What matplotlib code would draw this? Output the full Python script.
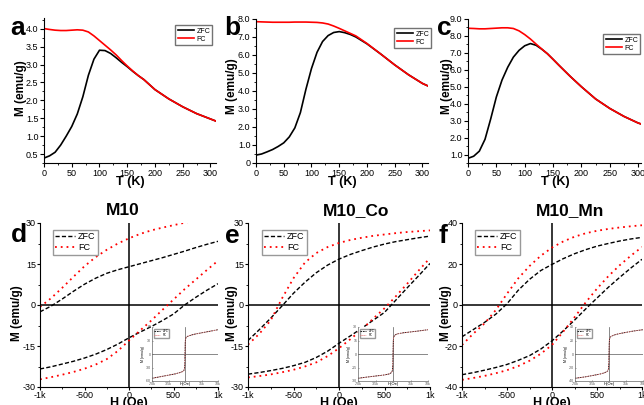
import matplotlib
matplotlib.use('Agg')
import matplotlib.pyplot as plt
from matplotlib.transforms import Affine2D
from matplotlib.ticker import AutoMinorLocator

plt.rcParams['font.family'] = ['Liberation Sans', 'DejaVu Sans']

# ---- M-T data (panels a-c) ----
T = [2, 10, 20, 30, 40, 50, 60, 70, 80, 90, 100, 110, 120, 130, 140, 150,
     160, 170, 180, 200, 225, 250, 275, 300, 310]
a_zfc = [0.40, 0.45, 0.55, 0.75, 1.00, 1.27, 1.62, 2.10, 2.70, 3.15, 3.40, 3.39, 3.31, 3.19, 3.06,
         2.94, 2.81, 2.69, 2.58, 2.30, 2.04, 1.82, 1.63, 1.48, 1.42]
a_fc = [4.00, 3.98, 3.96, 3.95, 3.95, 3.96, 3.97, 3.96, 3.91, 3.80, 3.67, 3.54, 3.41, 3.27, 3.11,
        2.96, 2.82, 2.69, 2.58, 2.30, 2.04, 1.82, 1.63, 1.48, 1.42]
b_zfc = [0.45, 0.50, 0.62, 0.75, 0.92, 1.12, 1.45, 1.95, 2.80, 4.10, 5.25, 6.15, 6.75, 7.08, 7.25,
         7.30, 7.24, 7.14, 7.00, 6.62, 6.05, 5.45, 4.90, 4.42, 4.28]
b_fc = [7.85, 7.84, 7.83, 7.82, 7.82, 7.82, 7.82, 7.83, 7.83, 7.83, 7.82, 7.81, 7.78, 7.72, 7.61,
        7.48, 7.34, 7.20, 7.06, 6.64, 6.05, 5.45, 4.90, 4.42, 4.28]
c_zfc = [0.80, 0.90, 1.20, 1.90, 3.10, 4.40, 5.40, 6.15, 6.75, 7.15, 7.42, 7.55, 7.45, 7.22, 6.95,
         6.62, 6.28, 5.95, 5.62, 5.00, 4.28, 3.72, 3.25, 2.86, 2.75]
c_fc = [8.45, 8.44, 8.42, 8.42, 8.44, 8.46, 8.48, 8.48, 8.44, 8.30, 8.08, 7.82, 7.52, 7.23, 6.95,
        6.62, 6.28, 5.95, 5.62, 5.00, 4.28, 3.72, 3.25, 2.86, 2.75]

# ---- M-H loops (panels d-f), upper = field decreasing, lower = increasing ----
H = [-1000, -875, -750, -625, -500, -375, -250, -125, 0, 125, 250, 375, 500, 625, 750, 875, 1000]
d_zfc_up = [-2.5, -0.4, 2.2, 5.0, 7.6, 9.8, 11.6, 12.9, 14.0, 15.1, 16.2, 17.3, 18.5, 19.7, 21.0, 22.2, 23.3]
d_zfc_lo = [-23.4, -22.6, -21.6, -20.6, -19.4, -18.0, -16.3, -14.3, -12.0, -9.9, -7.9, -5.7, -3.3, 0.0, 2.8, 5.4, 7.8]
d_fc_up = [-0.7, 2.5, 6.3, 10.3, 14.2, 17.5, 20.2, 22.5, 24.4, 26.0, 27.3, 28.3, 29.2, 30.1, 30.9, 31.6, 32.3]
d_fc_lo = [-27.2, -26.4, -25.5, -24.5, -23.3, -21.8, -19.8, -16.8, -13.0, -9.3, -5.7, -1.8, 2.0, 5.8, 9.3, 12.8, 16.2]

e_zfc_up = [-13.0, -9.0, -4.8, -0.3, 4.3, 8.3, 11.8, 14.6, 16.8, 18.5, 19.9, 21.2, 22.3, 23.2, 23.9, 24.6, 25.2]
e_zfc_lo = [-25.3, -24.7, -24.0, -23.2, -22.2, -21.0, -19.2, -16.9, -14.0, -11.3, -8.5, -5.6, -2.7, 1.8, 6.3, 10.7, 15.2]
e_fc_up = [-14.5, -10.5, -5.6, 2.5, 9.8, 15.5, 19.0, 21.2, 22.7, 23.8, 24.6, 25.3, 25.8, 26.3, 26.7, 27.0, 27.3]
e_fc_lo = [-26.5, -26.0, -25.4, -24.6, -23.7, -22.5, -21.0, -18.7, -15.8, -12.5, -9.0, -5.0, -1.2, 3.2, 7.8, 12.6, 17.2]

f_zfc_up = [-15.5, -12.0, -8.5, -4.5, 0.6, 7.2, 12.5, 16.8, 19.8, 22.6, 25.0, 27.0, 28.7, 30.0, 31.2, 32.2, 33.0]
f_zfc_lo = [-34.0, -33.0, -31.8, -30.5, -29.0, -27.0, -24.7, -21.5, -17.5, -12.6, -7.4, -1.9, 3.4, 8.6, 13.4, 18.0, 22.3]
f_fc_up = [-19.5, -14.0, -9.0, -2.5, 5.5, 13.0, 19.0, 24.0, 28.0, 31.0, 33.3, 35.0, 36.2, 37.1, 37.8, 38.4, 38.9]
f_fc_lo = [-36.5, -35.6, -34.6, -33.3, -31.8, -29.8, -27.2, -23.8, -19.5, -13.0, -6.0, 1.3, 8.0, 14.0, 19.3, 24.0, 28.3]

# ---- full-field loops for insets ----
H_big = [-70000, -50000, -35000, -20000, -10000, -5000, -2500, -1000, -500, 0,
         500, 1000, 2500, 5000, 10000, 20000, 35000, 50000, 70000]
d_big = [-54, -50, -47, -44, -41, -39, -37, -33, -25, 0, 25, 33, 37, 39, 41, 44, 47, 50, 54]
e_big = [-27, -25.5, -24.5, -23.5, -22.5, -21.5, -20, -18, -13, 0, 13, 18, 20, 21.5, 22.5, 23.5, 24.5, 25.5, 27]
f_big = [-36, -34, -32, -30, -28, -26.5, -25, -22, -16, 0, 16, 22, 25, 26.5, 28, 30, 32, 34, 36]
d_big_lim, e_big_lim, f_big_lim = 60, 30, 40

W, HH = 644, 405
fig = plt.figure(figsize=(W / 100, HH / 100), dpi=100)
# pixel coords, origin top-left
pix = Affine2D().scale(1 / W, -1 / HH).translate(0, 1) + fig.transFigure


def box(l, t, r, b):
    return fig.add_axes([l / W, 1 - b / HH, (r - l) / W, (b - t) / HH])


def fmt1(v, pos):
    return '0' if v == 0 else '%.1f' % v


def mt_panel(pos, zfc, fc, ylim, yticks, xmax, letter, letter_xy, leg_xy, ylab_xy, xlab_xy):
    ax = box(*pos)
    ax.plot(T, zfc, color='black', lw=1.2, label='ZFC')
    ax.plot(T, fc, color='red', lw=1.2, label='FC')
    ax.set_xlim(0, xmax)
    ax.set_ylim(*ylim)
    ax.set_xticks([0, 50, 100, 150, 200, 250, 300])
    ax.set_yticks(yticks)
    ax.yaxis.set_major_formatter(fmt1)
    ax.xaxis.set_minor_locator(AutoMinorLocator(2))
    ax.yaxis.set_minor_locator(AutoMinorLocator(2))
    for s in ['top', 'right']:
        ax.spines[s].set_visible(False)
    ax.tick_params(direction='out', length=3, width=0.8, labelsize=6.5, pad=1)
    ax.tick_params(which='minor', direction='out', length=1.5, width=0.6)
    ax.set_xlabel('T (K)', fontsize=9, fontweight='bold')
    ax.set_ylabel('M (emu/g)', fontsize=8.5, fontweight='bold')
    ax.xaxis.set_label_coords(*xlab_xy, transform=pix)
    ax.yaxis.set_label_coords(*ylab_xy, transform=pix)
    fig.text(letter_xy[0], letter_xy[1], letter, transform=pix, fontsize=19,
             fontweight='bold', ha='center', va='baseline')
    ax.legend(loc='upper left', bbox_to_anchor=leg_xy, bbox_transform=pix,
              fontsize=5, handlelength=2.4, handletextpad=0.3, borderpad=0.3,
              labelspacing=0.15, fancybox=False, edgecolor='0.45', framealpha=1)
    return ax


def mh_panel(pos, zu, zl, fu, fl, ymax, letter, letter_xy, title, title_xy,
             leg_xy, ylab_xy, xlab_xy, inset_pos, big, big_lim):
    ax = box(*pos)
    ax.axhline(0, color='black', lw=1.1, zorder=1)
    ax.axvline(0, color='black', lw=1.1, zorder=1)
    ax.plot(H, zu, color='black', lw=1.0, ls=(0, (3, 1.6)), label='ZFC')
    ax.plot(H, zl, color='black', lw=1.0, ls=(0, (3, 1.6)))
    ax.plot(H, fu, color='red', lw=1.3, ls=(0, (1, 2.2)), label='FC')
    ax.plot(H, fl, color='red', lw=1.3, ls=(0, (1, 2.2)))
    ax.set_xlim(-1000, 1000)
    ax.set_ylim(-ymax, ymax)
    ax.set_xticks([-1000, -500, 0, 500, 1000])
    ax.set_xticklabels(['-1k', '-500', '0', '500', '1k'])
    yt = [-ymax, -ymax // 2, 0, ymax // 2, ymax]
    ax.set_yticks(yt)
    ax.set_yticklabels(['%d' % v for v in yt])
    ax.xaxis.set_minor_locator(AutoMinorLocator(2))
    ax.yaxis.set_minor_locator(AutoMinorLocator(2))
    for s in ['top', 'right']:
        ax.spines[s].set_visible(False)
    ax.tick_params(direction='out', length=2.5, width=0.8, labelsize=6.5, pad=0.5)
    ax.tick_params(which='minor', direction='out', length=1.5, width=0.6)
    ax.set_xlabel('H (Oe)', fontsize=9, fontweight='bold')
    ax.set_ylabel('M (emu/g)', fontsize=8.5, fontweight='bold')
    ax.xaxis.set_label_coords(*xlab_xy, transform=pix)
    ax.yaxis.set_label_coords(*ylab_xy, transform=pix)
    fig.text(letter_xy[0], letter_xy[1], letter, transform=pix, fontsize=19,
             fontweight='bold', ha='center', va='baseline')
    fig.text(title_xy[0], title_xy[1], title, transform=pix, fontsize=12.5,
             fontweight='bold', ha='center', va='baseline')
    ax.legend(loc='upper left', bbox_to_anchor=leg_xy, bbox_transform=pix,
              fontsize=6.5, handlelength=2.2, handletextpad=0.3, borderpad=0.3,
              labelspacing=0.2, fancybox=False, edgecolor='0.6', framealpha=1)

    # inset: full-field loop
    ins = box(*inset_pos)
    ins.axhline(0, color='0.35', lw=0.5)
    ins.axvline(0, color='0.35', lw=0.5)
    ins.plot(H_big, big, color='black', lw=0.6, ls=(0, (2, 1)), label='ZFC')
    ins.plot(H_big, big, color='#e07070', lw=0.7, ls=(0, (1, 1)), label='FC')
    ins.set_xlim(-70000, 70000)
    ins.set_ylim(-big_lim, big_lim)
    ins.set_xticks([-70000, -35000, 0, 35000, 70000])
    ins.set_xticklabels(['-70k', '-35k', '', '35k', '70k'])
    ins.set_yticks([-big_lim, -big_lim // 2, 0, big_lim // 2, big_lim])
    ins.yaxis.set_major_formatter(lambda v, p: '%d' % v)
    for s in ['top', 'right']:
        ins.spines[s].set_visible(False)
    for s in ['left', 'bottom']:
        ins.spines[s].set_linewidth(0.5)
        ins.spines[s].set_color('0.4')
    ins.tick_params(direction='in', length=1, width=0.4, labelsize=2.5, pad=0.5, colors='0.3')
    ins.set_xlabel('H(Oe)', fontsize=3, labelpad=0)
    ins.set_ylabel('M (emu/g)', fontsize=2.5, labelpad=0.5)
    ins.xaxis.set_label_coords(0.5, -0.02)
    ins.legend(loc='upper left', fontsize=2.2, handlelength=2, borderpad=0.2,
               labelspacing=0.1, fancybox=False, edgecolor='0.6', framealpha=1)
    return ax


mt_panel((44, 18, 216, 163), a_zfc, a_fc, (0.25, 4.3), [0.5, 1.0, 1.5, 2.0, 2.5, 3.0, 3.5, 4.0],
         310, 'a', (18, 35), (172, 22), (27, 88), (130, 176))
mt_panel((256, 19, 428, 163), b_zfc, b_fc, (0, 8.0), [0, 1, 2, 3, 4, 5, 6, 7, 8],
         310, 'b', (232, 35), (391, 25), (238, 86), (342, 176))
mt_panel((468, 19, 641, 163), c_zfc, c_fc, (0.5, 9.0), [1, 2, 3, 4, 5, 6, 7, 8, 9],
         305, 'c', (444, 35), (600, 31), (453, 86), (555, 176))

mh_panel((40, 223, 218, 387), d_zfc_up, d_zfc_lo, d_fc_up, d_fc_lo, 30, 'd', (19, 242),
         'M10', (123, 215), (48, 225), (23, 313), (129, 397), (152, 327, 218, 381), d_big, d_big_lim)
mh_panel((248, 223, 430, 387), e_zfc_up, e_zfc_lo, e_fc_up, e_fc_lo, 30, 'e', (232, 243),
         'M10_Co', (356, 215), (257, 225), (238, 313), (339, 397), (358, 327, 428, 381), e_big, e_big_lim)
mh_panel((462, 223, 642, 387), f_zfc_up, f_zfc_lo, f_fc_up, f_fc_lo, 40, 'f', (443, 243),
         'M10_Mn', (570, 215), (470, 225), (452, 313), (552, 397), (575, 327, 643, 381), f_big, f_big_lim)

fig.savefig('out.png', dpi=100)
